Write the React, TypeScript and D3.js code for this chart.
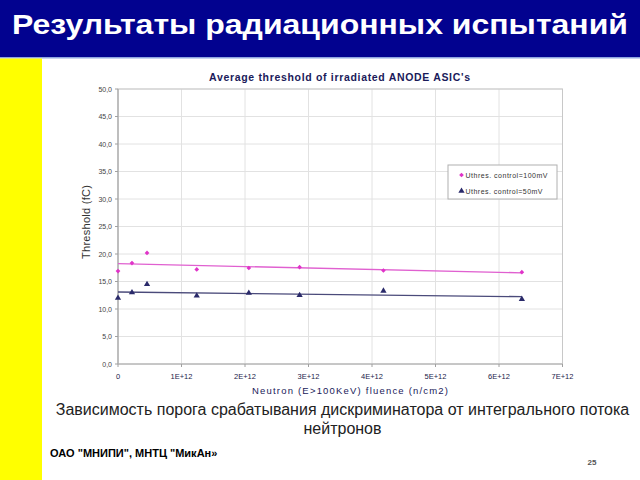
import React from "react";
import * as d3 from "d3";

const fluence = [0, 0.22e12, 0.457e12, 1.24e12, 2.06e12, 2.86e12, 4.18e12, 6.36e12];
const series100 = [16.9, 18.35, 20.2, 17.2, 17.45, 17.6, 17.0, 16.7];
const series50 = [12.0, 13.0, 14.5, 12.4, 12.9, 12.5, 13.3, 11.8];
const seriesNames = ["Uthres. control=100mV", "Uthres. control=50mV"];
const seriesColors = ["#e033c8", "#2a2a6a"];
const yTicks = [0, 5, 10, 15, 20, 25, 30, 35, 40, 45, 50];
const xTicks = [0, 1e12, 2e12, 3e12, 4e12, 5e12, 6e12, 7e12];
const xTickLabels = ["0", "1E+12", "2E+12", "3E+12", "4E+12", "5E+12", "6E+12", "7E+12"];

function regression(xs: number[], ys: number[]) {
  const mx = d3.mean(xs)!;
  const my = d3.mean(ys)!;
  let num = 0, den = 0;
  xs.forEach((x, i) => { num += (x - mx) * (ys[i] - my); den += (x - mx) * (x - mx); });
  const slope = num / den;
  return { slope, intercept: my - slope * mx };
}

export default function App() {
  const W = 640, H = 480;
  const x = d3.scaleLinear().domain([0, 7e12]).range([118, 562.5]);
  const y = d3.scaleLinear().domain([0, 50]).range([364, 89]);
  const fmt = (v: number) => v.toFixed(1).replace(".", ",");
  const data = [series100, series50];
  const xMin = d3.min(fluence)!, xMax = d3.max(fluence)!;
  const tri = d3.symbol().type(d3.symbolTriangle).size(17)()!;
  const sq = d3.symbol().type(d3.symbolSquare).size(11)()!;
  return (
    <svg width={W} height={H} style={{ position: "absolute", left: 0, top: 0, display: "block" }}
      fontFamily="Liberation Sans, Arial, sans-serif">
      <rect x={0} y={0} width={W} height={H} fill="#ffffff" />
      <rect x={0} y={0} width={W} height={57} fill="#02028f" />
      <rect x={0} y={57} width={W} height={1.5} fill="#8fa6e0" />
      <rect x={0} y={58.5} width={42} height={H - 58.5} fill="#ffff00" />
      <text x={320} y={34} textAnchor="middle" fill="#ffffff" fontWeight="bold" fontSize={28.5}
        textLength={616} lengthAdjust="spacingAndGlyphs">Результаты радиационных испытаний</text>

      {/* gridlines */}
      {yTicks.map(t => (
        <line key={"gy" + t} x1={x(0)} x2={x(7e12)} y1={y(t)} y2={y(t)} stroke="#e2e2e2" strokeWidth={1} />
      ))}
      {xTicks.map(t => (
        <line key={"gx" + t} x1={x(t)} x2={x(t)} y1={y(0)} y2={y(50)} stroke="#e2e2e2" strokeWidth={1} />
      ))}
      <rect x={x(0)} y={y(50)} width={x(7e12) - x(0)} height={y(0) - y(50)} fill="none" stroke="#c8c8c8" strokeWidth={1} />
      <line x1={x(0)} x2={x(0)} y1={y(0)} y2={y(50)} stroke="#a0a0a0" strokeWidth={1} />
      <line x1={x(0)} x2={x(7e12)} y1={y(0)} y2={y(0)} stroke="#b0b0b0" strokeWidth={1} />
      {yTicks.map(t => (
        <g key={"ty" + t}>
          <line x1={x(0) - 3} x2={x(0)} y1={y(t)} y2={y(t)} stroke="#a0a0a0" />
          <text x={x(0) - 6} y={y(t) + 2.5} textAnchor="end" fontSize={7} fill="#444">{fmt(t)}</text>
        </g>
      ))}
      {xTicks.map((t, i) => (
        <g key={"tx" + t}>
          <line x1={x(t)} x2={x(t)} y1={y(0)} y2={y(0) + 3} stroke="#a0a0a0" />
          <text x={x(t)} y={378.5} textAnchor="middle" fontSize={7.5} fill="#22224a">{xTickLabels[i]}</text>
        </g>
      ))}

      {/* trend lines */}
      {data.map((ys, si) => {
        const r = regression(fluence, ys);
        return (
          <line key={"tr" + si} x1={x(xMin)} x2={x(xMax)}
            y1={y(r.intercept + r.slope * xMin)} y2={y(r.intercept + r.slope * xMax)}
            stroke={si === 0 ? "#e060d0" : "#4a4a7a"} strokeWidth={1.3} />
        );
      })}

      {/* points */}
      {fluence.map((f, i) => (
        <path key={"p1" + i} d={sq} transform={`translate(${x(f)},${y(series100[i])}) rotate(45)`} fill={seriesColors[0]} />
      ))}
      {fluence.map((f, i) => (
        <path key={"p2" + i} d={tri} transform={`translate(${x(f)},${y(series50[i])})`} fill={seriesColors[1]} />
      ))}

      {/* chart title */}
      <text x={339.5} y={80.5} textAnchor="middle" fontSize={10.5} fontWeight="bold" fill="#1a1a5a"
        textLength={261} lengthAdjust="spacing">Average threshold of irradiated  ANODE ASIC's</text>
      <text transform={`translate(90,${222}) rotate(-90)`} textAnchor="middle" fontSize={11} fill="#333"
        textLength={74} lengthAdjust="spacing">Threshold (fC)</text>
      <text x={350} y={393.5} textAnchor="middle" fontSize={9.5} fill="#1a1a5a"
        textLength={196} lengthAdjust="spacing">Neutron (E&gt;100KeV) fluence (n/cm2)</text>

      {/* legend */}
      <rect x={448} y={165} width={109} height={34} fill="#ffffff" stroke="#b0b0b0" strokeWidth={1} />
      <path d={sq} transform="translate(461.5,175) rotate(45)" fill={seriesColors[0]} />
      <text x={465.5} y={177.5} fontSize={7} fill="#333" textLength={82} lengthAdjust="spacing">{seriesNames[0]}</text>
      <path d={tri} transform="translate(461.5,191)" fill={seriesColors[1]} />
      <text x={465.5} y={193.5} fontSize={7} fill="#333" textLength={77} lengthAdjust="spacing">{seriesNames[1]}</text>

      {/* caption */}
      <text x={342.5} y={415} textAnchor="middle" fontSize={16} fill="#222">Зависимость порога срабатывания дискриминатора от интегрального потока</text>
      <text x={342.5} y={434} textAnchor="middle" fontSize={16} fill="#222">нейтронов</text>
      <text x={50} y={456.5} fontSize={11} fontWeight="bold" fill="#000">ОАО "МНИПИ", МНТЦ "МикАн»</text>
      <text x={592} y={465} textAnchor="middle" fontSize={8} fontWeight="bold" fill="#555">25</text>
    </svg>
  );
}
